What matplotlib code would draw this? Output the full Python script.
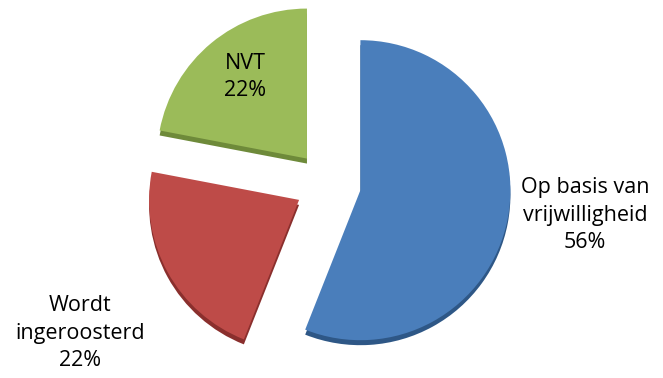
import matplotlib
matplotlib.use("Agg")
import matplotlib.pyplot as plt

categories = ["Op basis van\nvrijwilligheid", "Wordt\ningeroosterd", "NVT"]
values = [56, 22, 22]
colors = ["#4A7EBB", "#BE4B48", "#9BBB59"]
side_colors = ["#2E5786", "#8A2F2D", "#6E8A3A"]

W, H = 663, 378
fig = plt.figure(figsize=(W / 100, H / 100), dpi=100)
ax = fig.add_axes([0, 0, 1, 1])

cx, cy, r = 328, H - 184, 150
explode = [33] * len(values)  # data units (pixels)

# depth (side of 3D pie)
ax.pie(values, colors=side_colors, startangle=90, counterclock=False,
       explode=explode, center=(cx, cy - 5), radius=r, frame=True,
       wedgeprops=dict(linewidth=0))
# top faces
ax.pie(values, colors=colors, startangle=90, counterclock=False,
       explode=explode, center=(cx, cy), radius=r, frame=True,
       wedgeprops=dict(linewidth=0))
ax.set_xlim(0, W)
ax.set_ylim(0, H)
ax.set_aspect("equal")
ax.axis("off")

font = dict(family=["Open Sans", "DejaVu Sans"], fontsize=15.5, color="black",
            ha="center", va="center", linespacing=1.4)
label_pos = [(585, H - 215), (80, H - 333), (245, H - 77)]
for cat, v, (x, y) in zip(categories, values, label_pos):
    ax.text(x, y, f"{cat}\n{v}%", **font)

fig.savefig("out.png", dpi=100)
